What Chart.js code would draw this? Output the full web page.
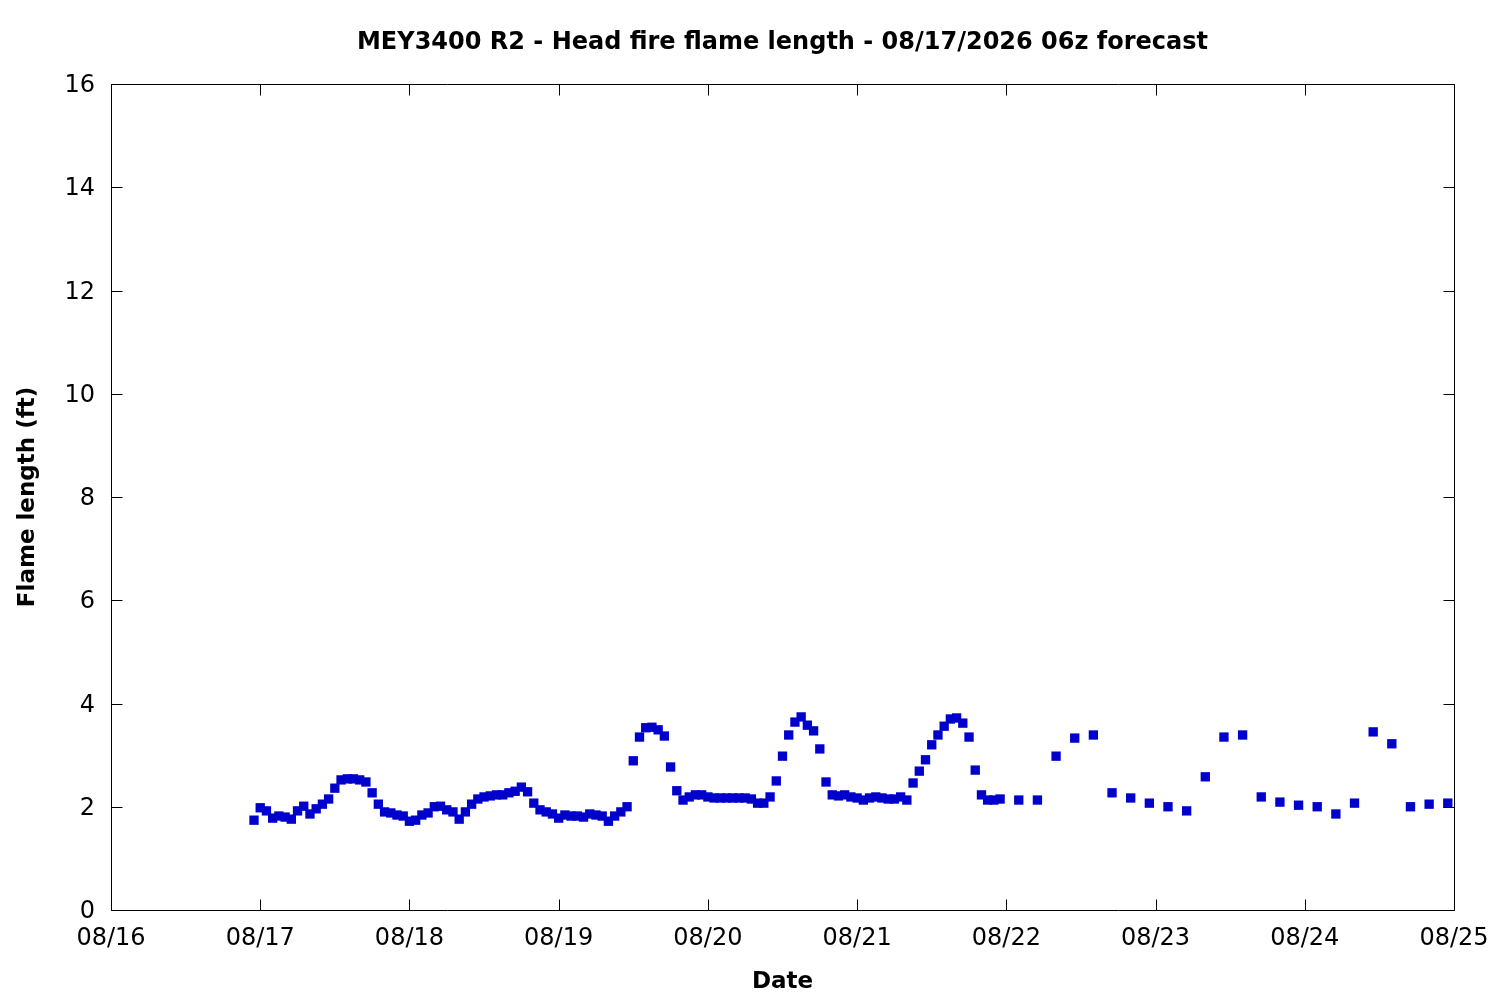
<!DOCTYPE html>
<html>
<head>
<meta charset="utf-8">
<script src="https://cdn.jsdelivr.net/npm/chart.js@4"></script>
<style>
html,body{margin:0;padding:0;background:#fff;}
#wrap{width:1500px;height:1000px;}
</style>
</head>
<body>
<div id="wrap"><canvas id="c" width="1500" height="1000"></canvas></div>
<script>
const titleText = 'MEY3400 R2 - Head fire flame length - 08/17/2026 06z forecast';
const xTitle = 'Date';
const yTitle = 'Flame length (ft)';
const dayLabels = ['08/16','08/17','08/18','08/19','08/20','08/21','08/22','08/23','08/24','08/25'];
const yTicks = [0,2,4,6,8,10,12,14,16];

// hourly forecast: 08/16 23:00 .. 08/21 23:00 (hours since 08/16 00:00)
const hourlyStart = 23;
const hourlyStep = 1;
const hourlyValues = [
  1.74,1.98,1.92,1.78,1.82,1.80,1.76,1.92,2.01,1.86,1.96,2.05,2.15,2.36,2.52,2.54,2.54,2.52,2.48,2.27,2.05,1.90,1.88,1.84,1.82,
  1.72,1.74,1.84,1.88,2.00,2.01,1.94,1.90,1.76,1.90,2.05,2.15,2.19,2.21,2.23,2.23,2.27,2.30,2.38,2.29,2.07,1.94,1.90,1.86,
  1.78,1.84,1.82,1.82,1.80,1.86,1.84,1.82,1.72,1.82,1.90,2.00,2.89,3.35,3.53,3.54,3.49,3.37,2.77,2.31,2.13,2.19,2.23,2.23,
  2.19,2.17,2.17,2.17,2.17,2.17,2.17,2.15,2.07,2.07,2.19,2.50,2.98,3.39,3.64,3.74,3.58,3.47,3.12,2.48,2.23,2.21,2.23,2.19,
  2.17,2.13,2.17,2.19,2.17,2.15,2.15,2.19,2.13,2.46,2.69,2.91,3.20,3.39,3.56,3.70,3.72,3.62,3.35,2.71,2.23,2.13,2.13,2.15
];
// 3-hourly forecast: 08/22 02:00 .. 08/24 23:00
const threeHourlyStart = 146;
const threeHourlyStep = 3;
const threeHourlyValues = [
  2.13,2.13,2.98,3.33,3.39,2.27,2.17,2.07,
  2.00,1.92,2.58,3.35,3.39,2.19,2.09,2.03,
  2.00,1.86,2.07,3.45,3.22,2.00,2.05,2.07
];

const points = [];
hourlyValues.forEach((v,i)=>points.push({x: hourlyStart + i*hourlyStep, y: v}));
threeHourlyValues.forEach((v,i)=>points.push({x: threeHourlyStart + i*threeHourlyStep, y: v}));

const FONT = 'DejaVu Sans';
const TICK_LEN = 11;

const frame = {
  id: 'frame',
  afterDraw(chart) {
    const {ctx, chartArea: a, scales} = chart;
    ctx.save();
    ctx.strokeStyle = '#000';
    ctx.lineWidth = 1;
    ctx.beginPath();
    const L = Math.round(a.left)+0.5, R = Math.round(a.right)+0.5, T = Math.round(a.top)+0.5, B = Math.round(a.bottom)+0.5;
    ctx.rect(L, T, R-L, B-T);
    scales.x.ticks.forEach((t)=>{
      const px = Math.round(scales.x.getPixelForValue(t.value))+0.5;
      ctx.moveTo(px, B); ctx.lineTo(px, B-TICK_LEN);
      ctx.moveTo(px, T); ctx.lineTo(px, T+TICK_LEN);
    });
    scales.y.ticks.forEach((t)=>{
      const py = Math.round(scales.y.getPixelForValue(t.value))+0.5;
      ctx.moveTo(L, py); ctx.lineTo(L+TICK_LEN, py);
      ctx.moveTo(R, py); ctx.lineTo(R-TICK_LEN, py);
    });
    ctx.stroke();
    // title centred over the plot area
    ctx.fillStyle = '#000';
    ctx.font = 'bold 24px "' + FONT + '"';
    ctx.textAlign = 'center';
    ctx.textBaseline = 'middle';
    ctx.fillText(titleText, (a.left + a.right)/2, 43);
    ctx.restore();
  }
};

new Chart(document.getElementById('c'), {
  type: 'scatter',
  data: {
    datasets: [{
      label: 'Flame length',
      data: points,
      pointStyle: 'rect',
      pointRadius: 6.6,
      pointHoverRadius: 6.6,
      borderWidth: 0,
      backgroundColor: '#0000cc',
      borderColor: '#0000cc'
    }]
  },
  options: {
    responsive: false,
    animation: false,
    devicePixelRatio: 1,
    layout: {padding: {left: 0, right: 46, top: 84, bottom: 0}},
    plugins: {
      legend: {display: false},
      tooltip: {enabled: false},
      title: {display: false}
    },
    scales: {
      x: {
        type: 'linear',
        min: 0, max: (dayLabels.length-1)*24,
        afterBuildTicks(scale) { scale.ticks = dayLabels.map((l,i)=>({value: i*24})); },
        afterFit(scale) { scale.height = 90; scale.paddingLeft = 0; scale.paddingRight = 0; },
        grid: {display: false, drawTicks: false},
        border: {display: false},
        ticks: {
          color: '#000', font: {family: FONT, size: 24}, padding: 14, maxRotation: 0, autoSkip: false,
          callback: (v)=> dayLabels[Math.round(v/24)]
        },
        title: {display: true, text: xTitle, color: '#000', font: {family: FONT, size: 23, weight: 'bold', lineHeight: 1.2}, padding: {top: 0, bottom: 4}}
      },
      y: {
        type: 'linear',
        min: yTicks[0], max: yTicks[yTicks.length-1],
        afterBuildTicks(scale) { scale.ticks = yTicks.map(v=>({value: v})); },
        afterFit(scale) { scale.width = 111; },
        grid: {display: false, drawTicks: false},
        border: {display: false},
        ticks: {color: '#000', font: {family: FONT, size: 24}, padding: 16, labelOffset: 2},
        title: {display: true, text: yTitle, color: '#000', font: {family: FONT, size: 23, weight: 'bold', lineHeight: 1.2}, padding: {top: 14, bottom: 0}}
      }
    }
  },
  plugins: [frame]
});
</script>
</body>
</html>
